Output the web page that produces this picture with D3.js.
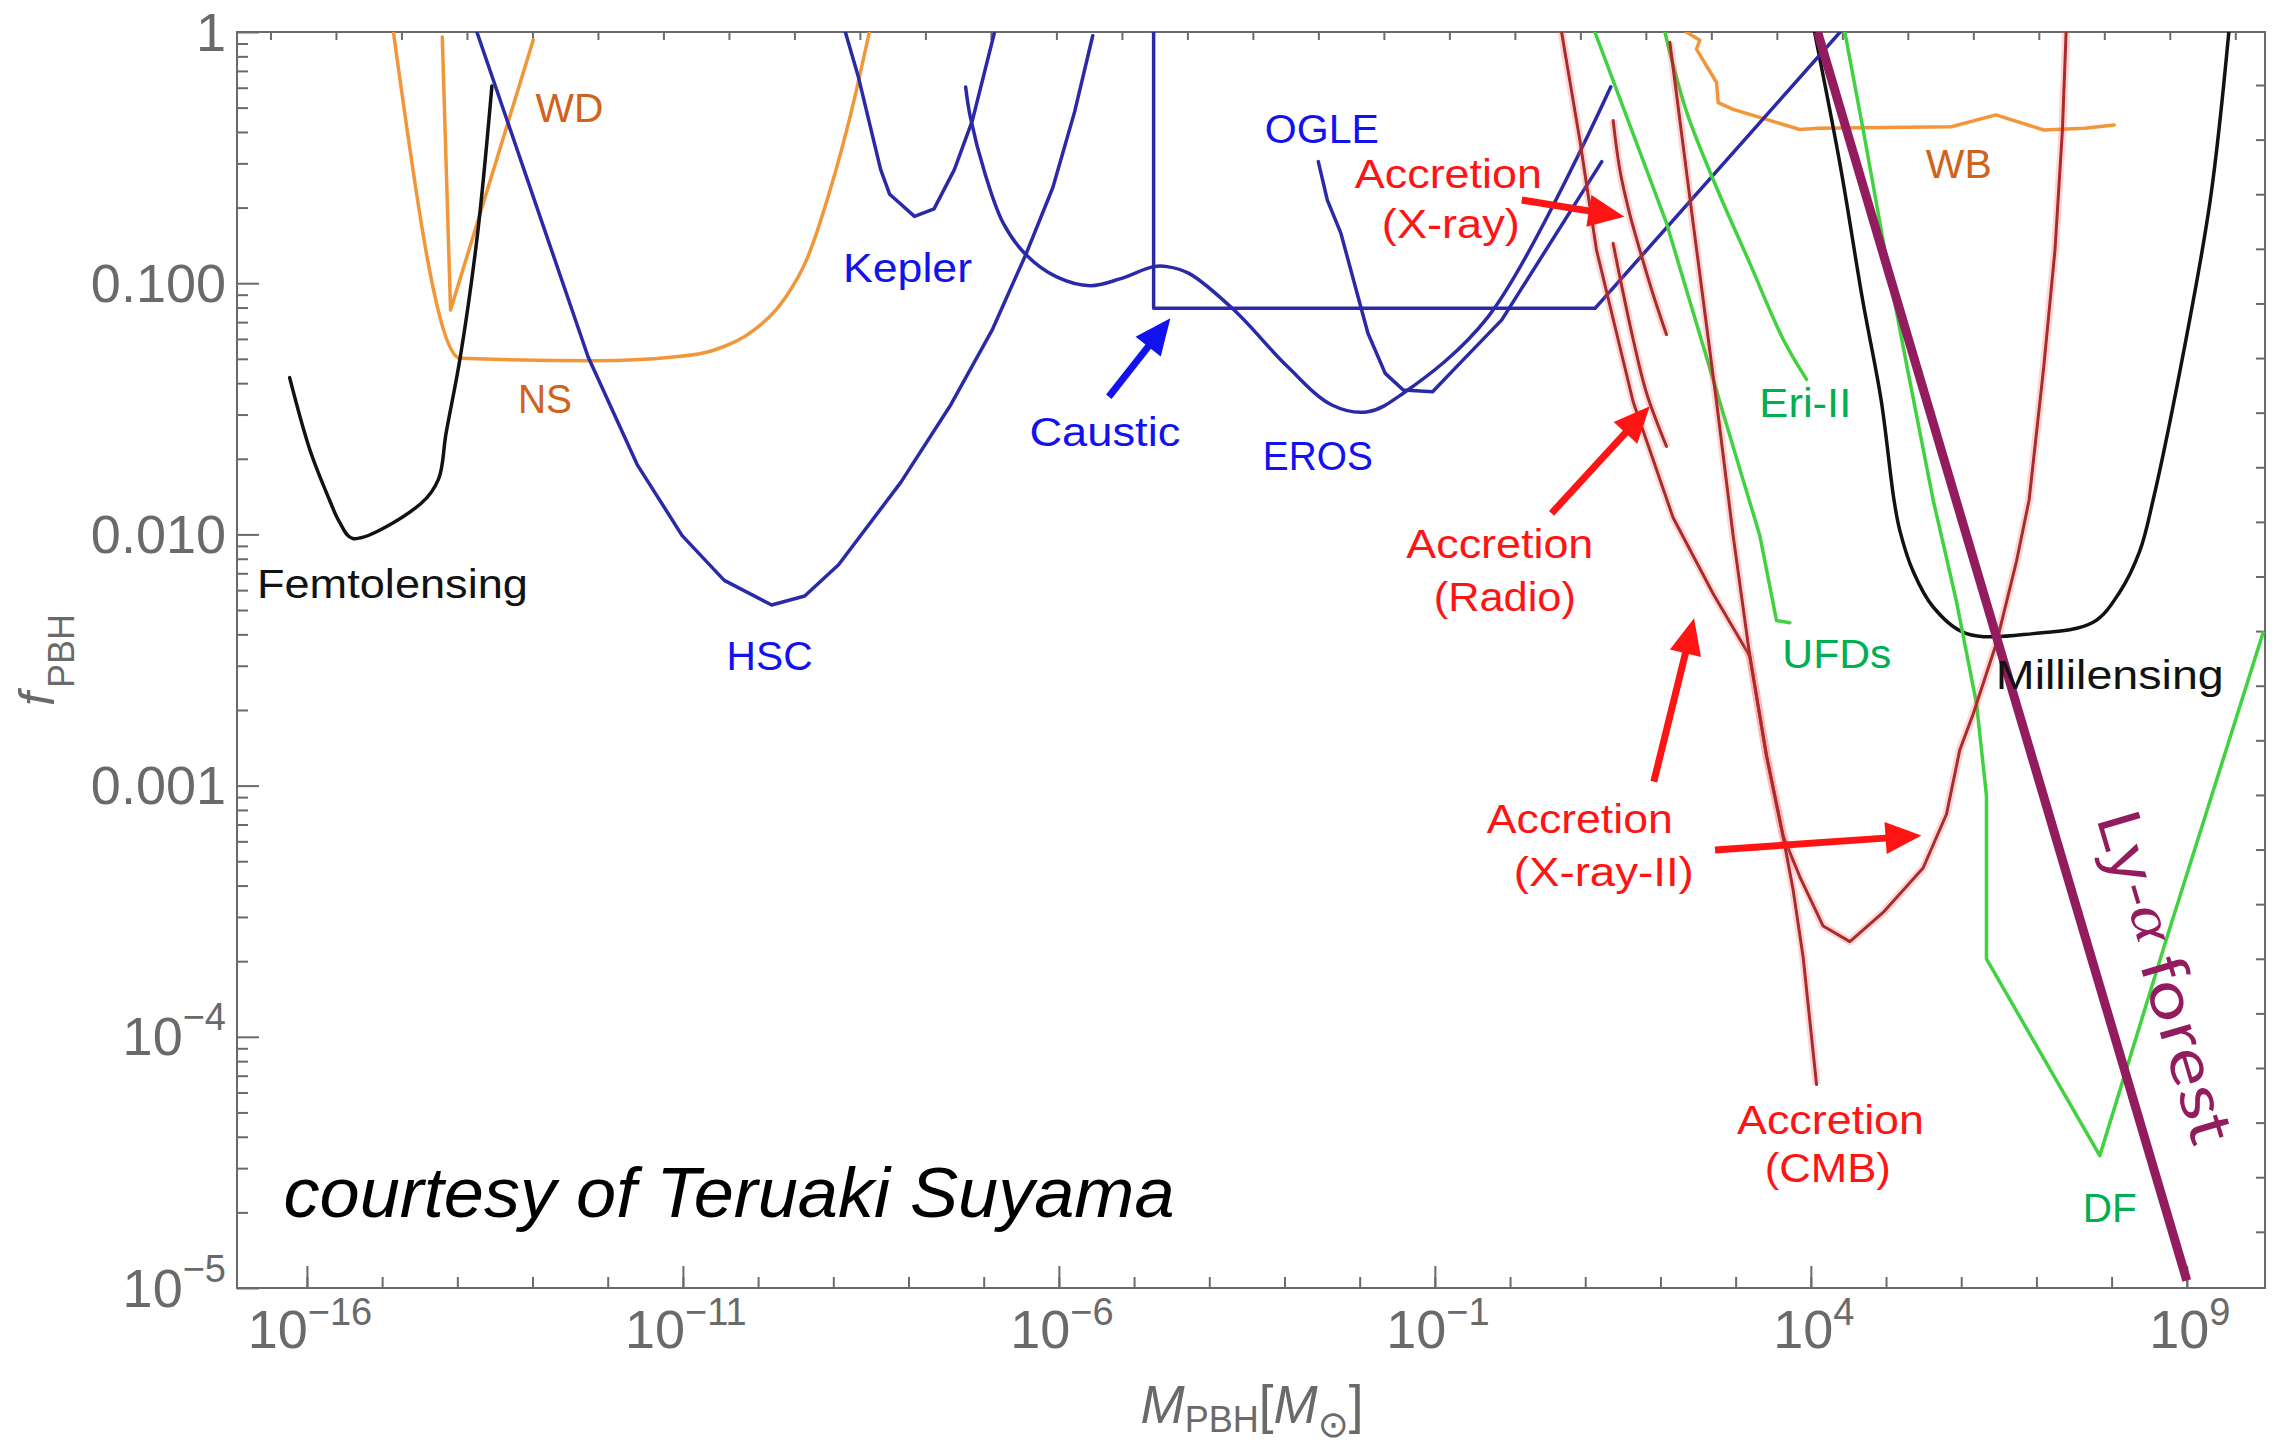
<!DOCTYPE html>
<html>
<head>
<meta charset="utf-8">
<script src="https://cdn.jsdelivr.net/npm/d3@7"></script>
<style>
  html, body { margin: 0; padding: 0; background: #ffffff; }
  svg { display: block; }
</style>
</head>
<body>
<svg id="chart" width="2280" height="1447"></svg>
<script>
// Constraint curves on the PBH dark-matter fraction.
// Every point is [log10(M_PBH / M_sun), log10(f_PBH)].
const femtolensing = [[-16.23,-1.376],[-15.96,-1.664],[-15.70,-1.863],[-15.57,-1.949],[-15.39,-2.016],[-14.48,-1.876],[-14.25,-1.78],[-14.15,-1.598],[-13.96,-1.293],[-13.73,-0.801],[-13.54,-0.215]];
const whiteDwarf = [[-14.20,-0.02],[-14.09,-1.107],[-12.99,-0.032]];
const neutronStar = [[-14.85,0],[-13.96,-1.299],[-12.14,-1.309],[-11.13,-1.294],[-10.60,-1.268],[-10.06,-1.188],[-9.65,-1.063],[-9.35,-0.903],[-9.05,-0.637],[-8.76,-0.317],[-8.52,0]];
const hsc = [[-13.74,0],[-12.91,-0.726],[-12.26,-1.294],[-11.61,-1.721],[-11.01,-2.005],[-10.45,-2.183],[-9.82,-2.281],[-9.38,-2.245],[-8.93,-2.121],[-8.10,-1.792],[-7.45,-1.490],[-6.89,-1.188],[-6.44,-0.886],[-6.08,-0.619],[-5.79,-0.317],[-5.55,-0.015]];
const kepler = [[-8.84,0],[-8.67,-0.175],[-8.37,-0.548],[-8.25,-0.646],[-7.92,-0.734],[-7.66,-0.704],[-7.39,-0.548],[-7.15,-0.352],[-6.86,-0.006]];
const eros = [[-7.24,-0.219],[-7.18,-0.335],[-6.98,-0.566],[-6.74,-0.761],[-6.44,-0.886],[-6.03,-0.975],[-5.58,-1.010],[-5.19,-0.983],[-4.74,-0.934],[-4.56,-0.934],[-4.27,-0.961],[-3.67,-1.107],[-2.96,-1.332],[-2.37,-1.485],[-1.89,-1.512],[-1.42,-1.438],[-0.29,-1.133],[1.34,-0.218]];
const ogle = [[-2.55,-0.516],[-2.43,-0.669],[-2.25,-0.801],[-2.07,-1.0],[-1.89,-1.199],[-1.66,-1.359],[-1.42,-1.425],[-1.03,-1.432],[-0.71,-1.332],[-0.11,-1.146],[1.22,-0.516]];
const caustic = [[-4.74,0],[-4.74,-1.10],[1.13,-1.10],[4.39,0]];
const accretionXray = [[1.371,-0.352],[1.460,-0.548],[1.593,-0.726],[1.726,-0.868],[1.903,-1.045],[2.081,-1.205]];
const accretionRadio = [[1.371,-0.841],[1.460,-0.975],[1.637,-1.223],[1.815,-1.437],[2.081,-1.650]];
const accretionXray2 = [[0.685,0],[0.928,-0.43],[1.150,-0.868],[1.637,-1.472],[2.169,-1.934],[2.701,-2.236],[3.189,-2.485],[3.41,-2.88],[3.63,-3.20],[3.854,-3.363],[4.164,-3.559],[4.519,-3.621],[4.962,-3.505],[5.493,-3.328],[5.804,-3.114],[5.981,-2.858],[6.158,-2.716],[6.469,-2.432],[6.735,-2.107],[6.903,-1.863],[7.098,-1.332],[7.247,-0.868],[7.346,-0.390],[7.395,0]];
const accretionCMB = [[2.125,-0.041],[2.435,-0.761],[2.746,-1.472],[2.967,-2.005],[3.189,-2.485],[3.41,-2.88],[3.63,-3.20],[3.765,-3.416],[3.898,-3.683],[4.076,-4.190]];
const ufds = [[1.128,0],[1.637,-0.406],[2.081,-0.761],[2.524,-1.205],[2.966,-1.650],[3.322,-2.005],[3.544,-2.343],[3.721,-2.352]];
const eridanus2 = [[2.059,0],[2.347,-0.317],[2.746,-0.619],[3.189,-0.921],[3.632,-1.223],[3.943,-1.383]];
const dynamicalFriction = [[4.452,0],[4.705,-0.404],[4.984,-0.868],[5.279,-1.332],[5.627,-1.863],[5.938,-2.269],[6.204,-2.675],[6.336,-3.041],[6.336,-3.690],[7.843,-4.473],[8.730,-3.610],[10.015,-2.391]];
const millilensing = [[4.049,0],[4.394,-0.536],[4.689,-1.067],[4.935,-1.465],[5.106,-1.863],[5.184,-1.985],[5.360,-2.147],[5.627,-2.289],[6.071,-2.395],[6.956,-2.395],[7.754,-2.350],[8.109,-2.229],[8.375,-2.066],[8.552,-1.863],[8.920,-1.332],[9.312,-0.669],[9.559,0]];
const wideBinaries = [[2.346,0],[2.524,-0.033],[2.479,-0.068],[2.746,-0.201],[2.768,-0.281],[2.966,-0.308],[3.365,-0.344],[3.854,-0.388],[4.098,-0.383],[5.870,-0.377],[6.460,-0.330],[7.098,-0.390],[7.641,-0.383],[8.035,-0.370]];
const lymanAlpha = [[4.09,0],[9.0,-4.97]];

// Axis ticks (exponents) and their labels
const xTickExp = [-16, -11, -6, -1, 4, 9];
const xTickText = ["10^−16", "10^−11", "10^−6", "10^−1", "10^4", "10^9"];
const xMinorExp = [-16,-15,-14,-13,-12,-11,-10,-9,-8,-7,-6,-5,-4,-3,-2,-1,0,1,2,3,4,5,6,7,8,9];
const yTickExp = [0, -1, -2, -3, -4, -5];
const yTickText = ["1", "0.100", "0.010", "0.001", "10^−4", "10^−5"];

// Arrows: tail and tip, same coordinates as the curves
const arrowTails = [[-5.336,-1.452],[0.156,-0.669],[0.552,-1.916],[1.912,-2.984],[2.726,-3.256]];
const arrowTips  = [[-4.517,-1.140],[1.521,-0.735],[1.859,-1.490],[2.447,-2.334],[5.472,-3.199]];

// ---------------------------------------------------------------
const C = {
  black: "#121212", orange: "#f2963a", orangeText: "#d0621c",
  blue: "#2a2aa8", blueText: "#1212f0", red: "#a92c2c", redGlow: "#ff5a5a",
  redText: "#ff1414", green: "#40d240", greenText: "#00b050",
  purple: "#931c5e", axis: "#6a6a6a", axisText: "#6a6a6a"
};

const arrowColors = [C.blueText, C.redText, C.redText, C.redText, C.redText];

const svg = d3.select("#chart");
const L = 237, R = 2265, T = 32, B = 1288;

const x = d3.scaleLog().domain([Math.pow(10, -16.93), Math.pow(10, 10.04)]).range([L, R]);
const y = d3.scaleLog().domain([1e-5, 1]).range([B, T]);
const px = d => x(Math.pow(10, d[0]));
const py = d => y(Math.pow(10, d[1]));

svg.append("defs").append("clipPath").attr("id", "plotClip")
  .append("rect").attr("x", L).attr("y", T).attr("width", R - L).attr("height", B - T);

// ---- frame ticks ----
const tickStyle = g => {
  g.select(".domain").remove();
  g.selectAll(".tick line").attr("stroke", C.axis).attr("stroke-width", 2);
  g.selectAll(".tick text").remove();
};
const pow10 = e => Math.pow(10, e);

svg.append("g").attr("transform", `translate(0,${B})`)
  .call(d3.axisBottom(x).tickValues(xMinorExp.map(pow10)).tickSize(-11).tickFormat(""))
  .call(tickStyle);
svg.append("g").attr("transform", `translate(0,${B})`)
  .call(d3.axisBottom(x).tickValues(xTickExp.map(pow10)).tickSize(-22).tickFormat(""))
  .call(tickStyle);

const yMinor = [];
for (let e = -5; e < 0; e++) for (let m = 2; m <= 9; m++) yMinor.push(m * Math.pow(10, e));
svg.append("g").attr("transform", `translate(${L},0)`)
  .call(d3.axisLeft(y).tickValues(yMinor).tickSize(-11).tickFormat(""))
  .call(tickStyle);
svg.append("g").attr("transform", `translate(${L},0)`)
  .call(d3.axisLeft(y).tickValues(yTickExp.map(pow10)).tickSize(-22).tickFormat(""))
  .call(tickStyle);

// mirrored frame ticks on the top and right edges
const topTickExp = d3.range(-16.485, 10.0, 0.871);
svg.append("g").attr("transform", `translate(0,${T})`)
  .call(d3.axisTop(x).tickValues(topTickExp.map(pow10)).tickSize(-8).tickFormat(""))
  .call(tickStyle);
const rightTickExp = d3.range(-0.211, -4.99, -0.2174);
svg.append("g").attr("transform", `translate(${R},0)`)
  .call(d3.axisRight(y).tickValues(rightTickExp.map(pow10)).tickSize(-9).tickFormat(""))
  .call(tickStyle);

// frame
svg.append("rect").attr("x", L).attr("y", T).attr("width", R - L).attr("height", B - T)
  .attr("fill", "none").attr("stroke", C.axis).attr("stroke-width", 2);

// ---- tick labels ----
function powerLabel(sel, str, bigSize, supSize, supShift) {
  const parts = str.split("^");
  sel.append("tspan").text(parts[0]).attr("font-size", bigSize);
  if (parts.length > 1) {
    sel.append("tspan").text(parts[1]).attr("font-size", supSize).attr("dy", -supShift);
  }
}
xTickExp.forEach((e, i) => {
  const t = svg.append("text")
    .attr("x", x(pow10(e)) + 3).attr("y", 1348)
    .attr("text-anchor", "middle")
    .attr("font-family", "'Liberation Sans', Arial, sans-serif")
    .attr("fill", C.axisText);
  powerLabel(t, xTickText[i], 54, 38, 23);
});
yTickExp.forEach((e, i) => {
  const t = svg.append("text")
    .attr("x", 226).attr("y", y(pow10(e)) + 18.5)
    .attr("text-anchor", "end")
    .attr("font-family", "'Liberation Sans', Arial, sans-serif")
    .attr("fill", C.axisText);
  powerLabel(t, yTickText[i], 54, 38, 25);
});

// ---- axis titles ----
const xt = svg.append("text").attr("x", 1252).attr("y", 1423)
  .attr("text-anchor", "middle")
  .attr("font-family", "'Liberation Sans', Arial, sans-serif")
  .attr("fill", C.axisText).attr("font-size", 53);
xt.append("tspan").text("M").attr("font-style", "italic");
xt.append("tspan").text("PBH").attr("font-size", 36).attr("dy", 9);
xt.append("tspan").text("[").attr("dy", -9);
xt.append("tspan").text("M").attr("font-style", "italic");
xt.append("tspan").text("⊙").attr("font-size", 37).attr("dy", 14).attr("font-family", "'DejaVu Sans', sans-serif");
xt.append("tspan").text("]").attr("dy", -14);

const yt = svg.append("text")
  .attr("transform", "translate(54,660) rotate(-90)")
  .attr("text-anchor", "middle")
  .attr("font-family", "'Liberation Sans', Arial, sans-serif")
  .attr("fill", C.axisText).attr("font-size", 50);
yt.append("tspan").text("f").attr("font-style", "italic");
yt.append("tspan").text("PBH").attr("font-size", 36).attr("dy", 20).attr("dx", 4);

// ---- curves ----
const plot = svg.append("g").attr("clip-path", "url(#plotClip)");
const lineGen = curve => d3.line().x(px).y(py).curve(curve);
const lin = d3.curveLinear, smooth = d3.curveCatmullRom.alpha(0.5);

const series = [
  { data: neutronStar, color: C.orange, w: 3.5, curve: d3.curveMonotoneX },
  { data: whiteDwarf, color: C.orange, w: 3.5, curve: lin },
  { data: wideBinaries, color: C.orange, w: 3.5, curve: lin },
  { data: femtolensing, color: C.black, w: 3.5, curve: smooth },
  { data: millilensing, color: C.black, w: 3.5, curve: smooth },
  { data: hsc, color: C.blue, w: 3.5, curve: lin },
  { data: kepler, color: C.blue, w: 3.5, curve: lin },
  { data: eros, color: C.blue, w: 3.5, curve: smooth },
  { data: ogle, color: C.blue, w: 3.5, curve: lin },
  { data: caustic, color: C.blue, w: 3.5, curve: lin },
  { data: ufds, color: C.green, w: 3.5, curve: lin },
  { data: eridanus2, color: C.green, w: 3.5, curve: smooth },
  { data: dynamicalFriction, color: C.green, w: 3.5, curve: lin },
  { data: accretionXray, color: C.red, w: 3, curve: smooth, glow: true },
  { data: accretionRadio, color: C.red, w: 3, curve: smooth, glow: true },
  { data: accretionXray2, color: C.red, w: 3, curve: lin, glow: true },
  { data: accretionCMB, color: C.red, w: 3, curve: lin, glow: true },
  { data: lymanAlpha, color: C.purple, w: 9, curve: lin }
];

series.forEach(s => {
  if (s.glow) {
    plot.append("path").attr("d", lineGen(s.curve)(s.data))
      .attr("fill", "none").attr("stroke", C.redGlow).attr("stroke-opacity", 0.25)
      .attr("stroke-width", 8).attr("stroke-linejoin", "round");
  }
  plot.append("path").attr("d", lineGen(s.curve)(s.data))
    .attr("fill", "none").attr("stroke", s.color).attr("stroke-width", s.w)
    .attr("stroke-linejoin", "round").attr("stroke-linecap", s.w > 5 ? "butt" : "round");
});

// ---- arrows ----
arrowTails.forEach((tail, i) => {
  const tip = arrowTips[i];
  const x1 = px(tail), y1 = py(tail), x2 = px(tip), y2 = py(tip);
  const dx = x2 - x1, dy = y2 - y1, len = Math.hypot(dx, dy);
  const ux = dx / len, uy = dy / len;
  const hl = 36, hw = 16;
  const bx = x2 - ux * hl, by = y2 - uy * hl;
  svg.append("line").attr("x1", x1).attr("y1", y1).attr("x2", bx + ux * 3).attr("y2", by + uy * 3)
    .attr("stroke", arrowColors[i]).attr("stroke-width", 7);
  svg.append("path")
    .attr("d", `M${x2},${y2}L${bx - uy * hw},${by + ux * hw}L${bx + uy * hw},${by - ux * hw}Z`)
    .attr("fill", arrowColors[i]);
});

// ---- annotations ----
// each line: [text, logM, logf, width]; a label may span two lines
const labels = [
  { color: C.orangeText, anchor: "middle", lines: [["WD", -12.509, -0.357, 68]] },
  { color: C.orangeText, anchor: "middle", lines: [["NS", -12.835, -1.517, 54]] },
  { color: C.black, anchor: "start", lines: [["Femtolensing", -16.665, -2.253, 271]] },
  { color: C.blueText, anchor: "middle", lines: [["HSC", -9.847, -2.538, 86]] },
  { color: C.blueText, anchor: "middle", lines: [["Kepler", -8.013, -0.995, 129]] },
  { color: C.blueText, anchor: "middle", lines: [["Caustic", -5.388, -1.648, 151]] },
  { color: C.blueText, anchor: "middle", lines: [["OGLE", -2.503, -0.443, 114]] },
  { color: C.blueText, anchor: "middle", lines: [["EROS", -2.556, -1.744, 110]] },
  { color: C.redText, anchor: "middle", lines: [["Accretion", -0.820, -0.622, 187], ["(X-ray)", -0.787, -0.820, 138]] },
  { color: C.redText, anchor: "middle", lines: [["Accretion", -0.136, -2.094, 187], ["(Radio)", -0.069, -2.305, 142]] },
  { color: C.redText, anchor: "middle", lines: [["Accretion", 0.928, -3.189, 186], ["(X-ray-II)", 1.247, -3.400, 180]] },
  { color: C.redText, anchor: "middle", lines: [["Accretion", 4.262, -4.385, 187], ["(CMB)", 4.226, -4.578, 126]] },
  { color: C.greenText, anchor: "middle", lines: [["UFDs", 4.346, -2.532, 109]] },
  { color: C.greenText, anchor: "middle", lines: [["Eri-II", 3.927, -1.531, 92]] },
  { color: C.greenText, anchor: "middle", lines: [["DF", 7.976, -4.737, 54]] },
  { color: C.orangeText, anchor: "middle", lines: [["WB", 5.968, -0.581, 66]] },
  { color: C.black, anchor: "start", lines: [["Millilensing", 6.460, -2.615, 228]] }
];
labels.forEach(lab => {
  lab.lines.forEach(([txt, lm, lf, wid]) => {
    svg.append("text")
      .attr("x", px([lm, lf])).attr("y", py([lm, lf]))
      .attr("text-anchor", lab.anchor)
      .attr("font-family", "'Liberation Sans', Arial, sans-serif")
      .attr("font-size", 41)
      .attr("fill", lab.color)
      .attr("textLength", wid).attr("lengthAdjust", "spacingAndGlyphs")
      .text(txt);
  });
});

// Lyman-alpha label along its line
const lyPos = [8.761, -3.754];
const ly = svg.append("text")
  .attr("transform", `translate(${px(lyPos)},${py(lyPos)}) rotate(73.5)`)
  .attr("text-anchor", "middle").attr("dominant-baseline", "central")
  .attr("font-family", "'Noto Sans CJK JP', 'Noto Sans', sans-serif")
  .attr("font-size", 58).attr("font-weight", 400)
  .attr("fill", C.purple)
  .attr("textLength", 345).attr("lengthAdjust", "spacingAndGlyphs");
ly.append("tspan").text("Ly-");
ly.append("tspan").text("α").attr("font-style", "italic").attr("font-family", "'Liberation Serif', serif");
ly.append("tspan").text(" forest");

// credit line
const credit = [-16.311, -4.716];
svg.append("text")
  .attr("x", px(credit)).attr("y", py(credit))
  .attr("font-family", "'Liberation Sans', Arial, sans-serif")
  .attr("font-style", "italic").attr("font-size", 71)
  .attr("fill", "#000")
  .attr("textLength", 891).attr("lengthAdjust", "spacingAndGlyphs")
  .text("courtesy of Teruaki Suyama");
</script>
</body>
</html>
